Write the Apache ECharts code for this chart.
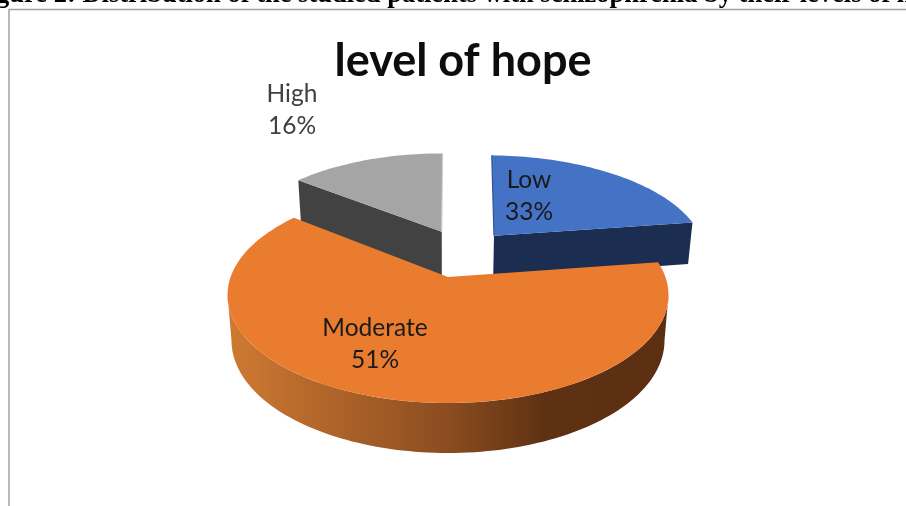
<!DOCTYPE html>
<html>
<head>
<meta charset="utf-8">
<style>html,body{margin:0;padding:0;background:#fff}#c{width:906px;height:506px}</style>
<script src="https://cdn.jsdelivr.net/npm/echarts@6/dist/echarts.min.js"></script>
</head>
<body>
<div id="c"></div>
<script>
// Data. Printed labels differ from the drawn slice sizes in the reference.
const categories = ['Low', 'Moderate', 'High'];
const drawnShares = [22.7, 63.0, 14.3];
const printedLabels = ['33%', '51%', '16%'];
const chartTitle = 'level of hope';
const caption = 'Figure 2: Distribution of the studied patients with schizophrenia by their levels of hope';

// Projection of the tilted disc (style / layout only)
const VIEW = {x0: 448, y0: 277, a: 217.4, b: 105, p: 1 / 6, baseScale: 0.982, depthMid: 44.5, depthSlope: 5.5};
const SLICE_STYLE = [
  {ou: 0.2264, ov: -0.4208, r: 1.015, startPad: 1.3, top: '#4472c4', wall: 'endEdge', wallColor: '#1b2d50', wallExtra: 0, edge: '#2f5597', edgeAt: 'start', lx: 529, ly: 196, text: '#1a1a1a'},
  {ou: 0, ov: 0, r: 1, startPad: 0, top: '#ea7c30', wall: 'arc', wallFrom: 99.6, wallTo: 260.4, lx: 375, ly: 344, text: '#1a1a1a'},
  {ou: -0.031, ov: -0.4648, r: 1, startPad: 0, top: '#a5a5a5', wall: 'startEdge', wallColor: '#424242', wallExtra: 5, edge: '#cfcfcf', edgeAt: 'end', lx: 292, ly: 110, text: '#404040'}
];
const RENDER_ORDER = [2, 0, 1];
const total = drawnShares.reduce((s, v) => s + v, 0);
const startAngles = drawnShares.map((_, i) => drawnShares.slice(0, i).reduce((s, v) => s + v, 0) / total * 360);

function topPoint(u, v) {
  const w = 1 - VIEW.p * v;
  return [VIEW.x0 + VIEW.a * u / w, VIEW.y0 + VIEW.b * v / w];
}
function basePoint(u, v, extra) {
  const t = topPoint(u, v);
  return [VIEW.x0 + (t[0] - VIEW.x0) * VIEW.baseScale, t[1] + VIEW.depthMid + VIEW.depthSlope * v + (extra || 0)];
}
function planePoint(s, deg) {
  const t = deg * Math.PI / 180;
  return [s.ou + s.r * Math.sin(t), s.ov - s.r * Math.cos(t)];
}
function arcPlane(s, from, to) {
  const pts = [];
  const n = Math.max(2, Math.ceil((to - from) / 1.5));
  for (let i = 0; i <= n; i++) pts.push(planePoint(s, from + (to - from) * i / n));
  return pts;
}

function renderItem(params, api) {
  const idx = api.value(1);
  const share = api.value(0);
  const s = SLICE_STYLE[idx];
  const from = startAngles[idx] + s.startPad;
  const to = startAngles[idx] + share / total * 360;
  const arc = arcPlane(s, from, to);
  const apex = [s.ou, s.ov];
  const children = [];
  if (s.wall === 'arc') {
    const wallArc = arcPlane(s, s.wallFrom, s.wallTo);
    const t = wallArc.map(p => topPoint(p[0], p[1]));
    const b = wallArc.map(p => basePoint(p[0], p[1])).reverse();
    children.push({
      type: 'polygon', shape: {points: t.concat(b)},
      style: {fill: {type: 'linear', x: 0, y: 0, x2: 1, y2: 0, colorStops: [
        {offset: 0, color: '#cf7a32'}, {offset: 0.5, color: '#8b4c20'},
        {offset: 0.72, color: '#5f3113'}, {offset: 1, color: '#5d2f12'}]}}
    });
  } else {
    const edge = s.wall === 'endEdge' ? arc[arc.length - 1] : arc[0];
    children.push({
      type: 'polygon',
      shape: {points: [topPoint(apex[0], apex[1]), topPoint(edge[0], edge[1]), basePoint(edge[0], edge[1], s.wallExtra), basePoint(apex[0], apex[1], s.wallExtra)]},
      style: {fill: s.wallColor}
    });
  }
  children.push({
    type: 'polygon',
    shape: {points: [topPoint(apex[0], apex[1])].concat(arc.map(p => topPoint(p[0], p[1])))},
    style: {fill: s.top}
  });
  if (s.edge) {
    const e = s.edgeAt === 'start' ? arc[0] : arc[arc.length - 1];
    const a = topPoint(apex[0], apex[1]), b = topPoint(e[0], e[1]);
    children.push({type: 'line', shape: {x1: a[0], y1: a[1], x2: b[0], y2: b[1]}, style: {stroke: s.edge, lineWidth: 1.2}});
  }
  children.push({
    type: 'text', x: s.lx, y: s.ly,
    style: {
      text: categories[idx] + '\n' + printedLabels[idx],
      font: '24.5px Lato', fill: s.text, align: 'center', verticalAlign: 'middle', lineHeight: 32
    }
  });
  return {type: 'group', children};
}

const chart = echarts.init(document.getElementById('c'), null, {renderer: 'canvas'});
chart.setOption({
  backgroundColor: '#ffffff',
  animation: false,
  title: {
    text: chartTitle, left: 458, top: 34, textAlign: 'center',
    textStyle: {fontFamily: 'Lato', fontSize: 45, fontWeight: 'bold', color: '#0d0d0d'}
  },
  graphic: [
    {type: 'text', x: -27.5, y: -18, silent: true,
     style: {text: caption, font: 'bold 26.5px "Liberation Serif"', fill: '#000'}},
    {type: 'polyline', silent: true,
     shape: {points: [[9, 506], [9, 9.5], [906, 9.5]]},
     style: {stroke: '#a3a3a3', lineWidth: 1.5, fill: 'none'}}
  ],
  series: [{
    type: 'custom',
    coordinateSystem: 'none',
    silent: true,
    renderItem: renderItem,
    data: RENDER_ORDER.map(i => ({name: categories[i], value: [drawnShares[i], i]}))
  }]
});
</script>
</body>
</html>
